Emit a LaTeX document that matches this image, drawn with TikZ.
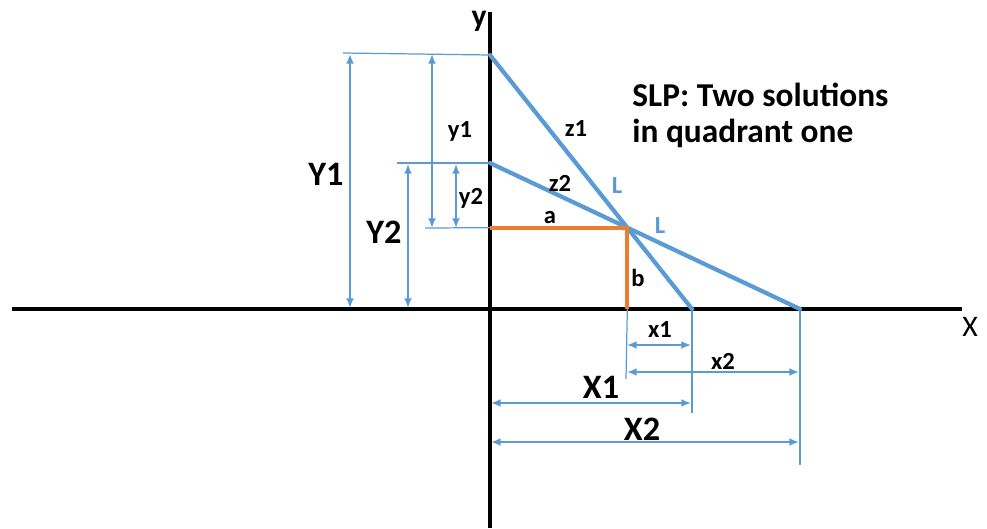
\documentclass[tikz,border=0pt]{standalone}
\usepackage{fontspec}
\setmainfont{Carlito}
\usetikzlibrary{arrows.meta}
\definecolor{azul}{HTML}{5B9BD5}
\definecolor{naranja}{HTML}{ED7D31}

\begin{document}
\begin{tikzpicture}[x=0.02cm, y=-0.02cm]
  \tikzset{
    eje/.style={draw=black,line width=2.3pt},
    recta/.style={draw=azul,line width=2.4pt,line cap=round},
    orto/.style={draw=naranja,line width=2.2pt},
    guia/.style={draw=azul,line width=0.7pt},
    cota/.style={draw=azul,line width=1pt,{Latex[length=5.5pt,width=4.5pt]}-{Latex[length=5.5pt,width=4.5pt]}},
    chico/.style={font=\bfseries\fontsize{14}{16}\selectfont,inner sep=1pt},
    grande/.style={font=\bfseries\fontsize{19.5}{22}\selectfont,inner sep=1pt}
  }
  \useasboundingbox (0,0) rectangle (987,528);
  % axes
  \coordinate (O) at (490,309);
  \coordinate (xl) at (12,309);
  \coordinate (xr) at (962,309);
  \coordinate (yt) at (490,12);
  \coordinate (yb) at (490,528);
  \draw[eje] (xl) -- (xr);
  \draw[eje] (yt) -- (yb);
  \node[font=\bfseries\fontsize{18}{20}\selectfont] (ylab) at (479,21) {y};
  \node[font=\fontsize{17}{20}\selectfont] (xlab) at (970,327) {X};
  % the two lines
  \coordinate (A) at (490,55);
  \coordinate (B) at (490,163);
  \coordinate (C) at (692,309);
  \coordinate (D) at (800,309);
  \coordinate (P) at (intersection of A--C and B--D);
  \draw[recta] (A) -- (C);
  \draw[recta] (B) -- (D);
  \coordinate (Pa) at (O |- P);
  \coordinate (Pb) at (P |- O);
  \draw[orto] (Pa) -- (P) -- (Pb);
  % extension lines
  \draw[guia] (A) -- (343,53);
  \draw[guia] (B) -- (397,163);
  \draw[guia] (Pa) -- (425,228);
  \draw[guia] (Pb) -- (626,379);
  \draw[guia] (C) -- (692,413);
  \draw[guia] (D) -- (800,465);
  % dimensions
  \draw[cota] (350,54) -- (350,308);
  \draw[cota] (408,164) -- (408,308);
  \draw[cota] (432,54) -- (432,228);
  \draw[cota] (456,164) -- (456,228);
  \draw[cota] (627,345) -- (691,345);
  \draw[cota] (627,372) -- (799,372);
  \draw[cota] (491,403) -- (691,403);
  \draw[cota] (491,442) -- (799,442);
  % labels
  \node[grande] (Y1) at (326,174) {Y1};
  \node[grande] (Y2) at (384,232) {Y2};
  \node[chico] (y1) at (460,131) {y1};
  \node[chico] (y2) at (471,198) {y2};
  \node[chico] (z1) at (576,129) {z1};
  \node[chico] (z2) at (560,183) {z2};
  \node[chico,text=azul] (L1) at (617,186) {L};
  \node[chico,text=azul] (L2) at (660,226) {L};
  \node[chico] (a) at (550,218) {a};
  \node[chico] (b) at (638,278) {b};
  \node[chico] (x1) at (660,330) {x1};
  \node[chico] (x2) at (723,361) {x2};
  \node[grande] (X1) at (601,387) {X1};
  \node[grande] (X2) at (642,429) {X2};
  \node[font=\bfseries\fontsize{19}{20.5}\selectfont,align=left,anchor=west,inner sep=0pt] (titulo) at (632,115) {SLP: Two solutions\\in quadrant one};
\end{tikzpicture}
\end{document}
